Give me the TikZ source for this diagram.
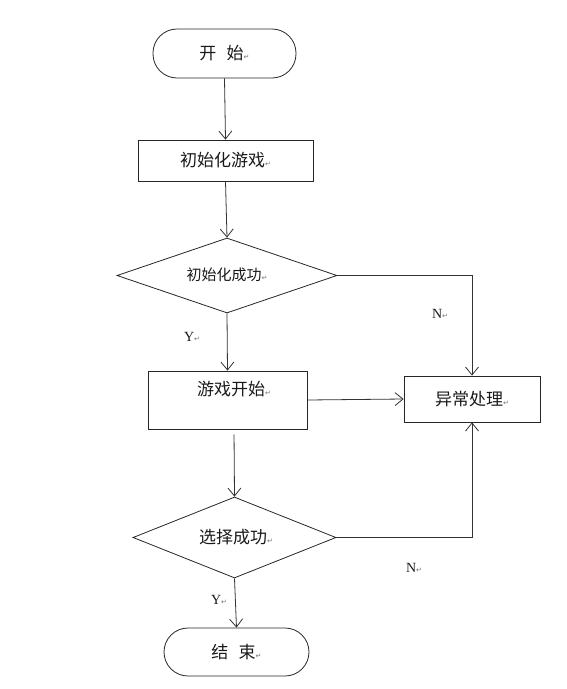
\documentclass[tikz,border=0pt]{standalone}
\usepackage{fontspec}
\setmainfont{Liberation Serif}
\newfontfamily\cjkf{Noto Sans CJK SC}
\newfontfamily\dvf{DejaVu Sans}
\usetikzlibrary{arrows.meta,shapes.geometric}
\newcommand{\pmark}{{\dvf\fontsize{7}{7}\selectfont\color{black!55}↵}}
\begin{document}
\begin{tikzpicture}[x=1pt,y=-1pt,
  every path/.style={line width=0.8pt},
  shp/.style={draw=black!85, line width=0.8pt, inner sep=0pt},
  term/.style={shp, rectangle, rounded corners=24pt},
  proc/.style={shp, rectangle},
  dec/.style={shp, diamond},
  cjktxt/.style={font=\cjkf\fontsize{17}{19}\selectfont, text=black!90},
  yn/.style={font=\fontsize{14}{15}\selectfont, text=black!90},
  arr/.style={draw=black!80, line width=0.8pt, -{Straight Barb[length=8pt,width=13pt]}}]
\useasboundingbox (0,0) rectangle (566,689);

\node[term, minimum width=143pt, minimum height=49pt, cjktxt] (start) at (224.5,53.5) {开\hspace{0.6em}始\pmark};
\node[proc, minimum width=175pt, minimum height=41pt, cjktxt] (init) at (225.5,160.5) {初始化游戏\pmark};
\node[dec, minimum width=220pt, minimum height=75pt] (d1) at (227,275.5) {};
\node[cjktxt, font=\cjkf\fontsize{15}{17}\selectfont] (d1t) at (227,275) {初始化成功\pmark};
\node[proc, minimum width=159pt, minimum height=58pt] (game) at (227.5,400) {};
\node[cjktxt] (gamet) at (234,389) {游戏开始\pmark};
\node[proc, minimum width=136pt, minimum height=46pt, cjktxt] (exc) at (472,399) {异常处理\pmark};
\node[dec, minimum width=203pt, minimum height=81pt] (d2) at (234.5,537.5) {};
\node[cjktxt] (d2t) at (236,537) {选择成功\pmark};
\node[term, minimum width=145pt, minimum height=48pt, cjktxt] (end) at (236.5,652) {结\hspace{0.6em}束\pmark};

\node[yn] (n1) at (440,314) {N\pmark};
\node[yn] (y1) at (192,337) {Y\pmark};
\node[yn] (n2) at (414,568) {N\pmark};
\node[yn] (y2) at (219,600) {Y\pmark};

\draw[arr] (start.south) -- (init.north);
\draw[arr] (init.south) -- (d1.north);
\draw[arr] (d1.east) -| (exc.north);
\draw[arr] (d1.south) -- (game.north);
\draw[arr] (game.east) -- (exc.west);
\draw[arr, shorten <=5pt] ([xshift=6.5pt]game.south) -- (d2.north);
\draw[arr] (d2.east) -| (exc.south);
\draw[arr] (d2.south) -- (end.north);
\end{tikzpicture}
\end{document}
